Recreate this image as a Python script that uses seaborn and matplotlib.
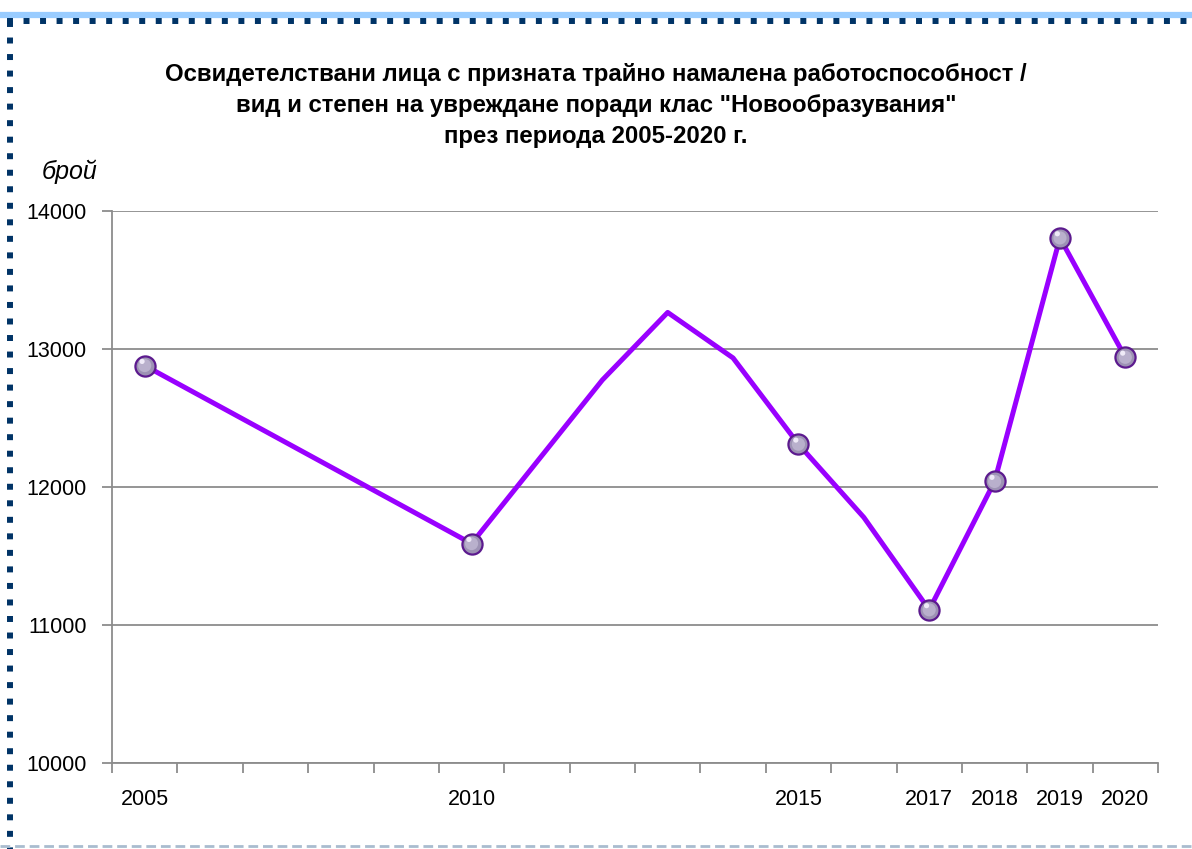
import matplotlib
matplotlib.use("Agg")
import matplotlib.pyplot as plt
import seaborn as sns
import pandas as pd
import numpy as np
from matplotlib.lines import Line2D
from matplotlib.ticker import FixedLocator, NullFormatter
from matplotlib import font_manager

# ---- data ----
years = list(range(2005, 2021))
values = [12880, None, None, None, None, 11590, None, 12775, 13265, 12935,
          12310, 11780, 11110, 12040, 13805, 12940]
marker_years = [2005, 2010, 2015, 2017, 2018, 2019, 2020]
tick_labels = ["2005", "2010", "2015", "2017", "2018", "2019", "2020"]
title_lines = ["Освидетелствани лица с призната трайно намалена работоспособност /",
               "вид и степен на увреждане поради клас \"Новообразувания\"",
               "през периода 2005-2020 г."]
y_label = "брой"

sns.set_theme(style="white")
plt.rcParams['font.family'] = ['Liberation Sans', 'DejaVu Sans']
plt.rcParams['lines.scale_dashes'] = False

names = {f.name for f in font_manager.fontManager.ttflist}
if "Liberation Sans Narrow" in names:
    tick_family = ["Liberation Sans Narrow", "DejaVu Sans"]
    tick_size = 18.5
else:
    tick_family = ["Liberation Sans", "DejaVu Sans"]
    tick_size = 15.5

df = pd.DataFrame({"year": years, "value": values})
df["pos"] = df["year"] - years[0]
df = df.dropna().astype({"value": float})
dm = df[df["year"].isin(marker_years)]

fig = plt.figure(figsize=(11.92, 8.49), dpi=100)
ax = fig.add_axes([112/1192, 1-763/849, (1158-112)/1192, (763-211)/849])

sns.lineplot(data=df, x="pos", y="value", ax=ax, color="#9900ff", linewidth=3.6,
             sort=True, estimator=None, zorder=3)
# sphere-like markers
sns.scatterplot(data=dm, x="pos", y="value", ax=ax, s=210, color="#9d92b4",
                edgecolor="#5c1a8e", linewidth=1.6, zorder=4)
sns.scatterplot(data=dm, x="pos", y="value", ax=ax, s=90, color="#b9b0cc",
                edgecolor="none", linewidth=0, zorder=5)
ax.scatter(dm["pos"] - 0.04, dm["value"] + 30, s=14, color="#efeaf7",
           edgecolor="none", zorder=6)

ax.set_xlim(-0.5, len(years) - 0.5)
ax.set_ylim(10000, 14000)
ax.set_yticks(np.arange(10000, 14001, 1000))
ax.yaxis.grid(True, color="#8c8c8c", linewidth=1.3)
ax.set_axisbelow(True)

label_pos = [int(y) - years[0] for y in tick_labels]
ax.set_xticks(label_pos)
ax.set_xticklabels(tick_labels)
ax.xaxis.set_minor_locator(FixedLocator(np.arange(-0.5, len(years), 1.0)))
ax.xaxis.set_minor_formatter(NullFormatter())
ax.tick_params(axis="x", which="major", length=0, pad=19, colors="black")
ax.tick_params(axis="x", which="minor", length=7, width=1.3, color="#8c8c8c",
               direction="out", bottom=True)
ax.tick_params(axis="y", which="major", length=7, width=1.3, color="#8c8c8c",
               direction="out", left=True, pad=11, labelcolor="black")
for lab in ax.get_xticklabels() + ax.get_yticklabels():
    lab.set_fontfamily(tick_family)
    lab.set_fontsize(tick_size)
ax.set_xlabel("")
ax.set_ylabel("")
for s in ["top", "right"]:
    ax.spines[s].set_visible(False)
for s in ["left", "bottom"]:
    ax.spines[s].set_color("#8c8c8c")
    ax.spines[s].set_linewidth(1.3)

# title and unit
for i, t in enumerate(title_lines):
    fig.text(596/1192, 1 - (75 + 30.5*i)/849, t, ha="center", va="center",
             fontsize=17.3, fontweight="bold", color="black")
fig.text(42/1192, 1-172/849, y_label, ha="left", va="center", fontsize=18,
         style="italic", color="black")

# decorative border
W, H = 1192, 849
def fx(x): return x / W
def fy(y): return 1 - y / H
fig.add_artist(Line2D([fx(0), fx(W)], [fy(15), fy(15)], color="#99ccff", lw=4.5,
                      solid_capstyle="butt", transform=fig.transFigure))
fig.add_artist(Line2D([fx(7), fx(W)], [fy(21), fy(21)], color="#003366", lw=4.3,
                      linestyle=(0, (4.3, 7.6)), dash_capstyle="butt",
                      transform=fig.transFigure))
fig.add_artist(Line2D([fx(10), fx(10)], [fy(21), fy(H)], color="#003366", lw=4.3,
                      linestyle=(0, (4.3, 7.6)), dash_capstyle="butt",
                      transform=fig.transFigure))
fig.add_artist(Line2D([fx(0), fx(W)], [fy(846), fy(846)], color="#a9bccf", lw=2,
                      linestyle=(0, (7, 3.5)), dash_capstyle="butt",
                      transform=fig.transFigure))

fig.savefig("out.png", dpi=100)
